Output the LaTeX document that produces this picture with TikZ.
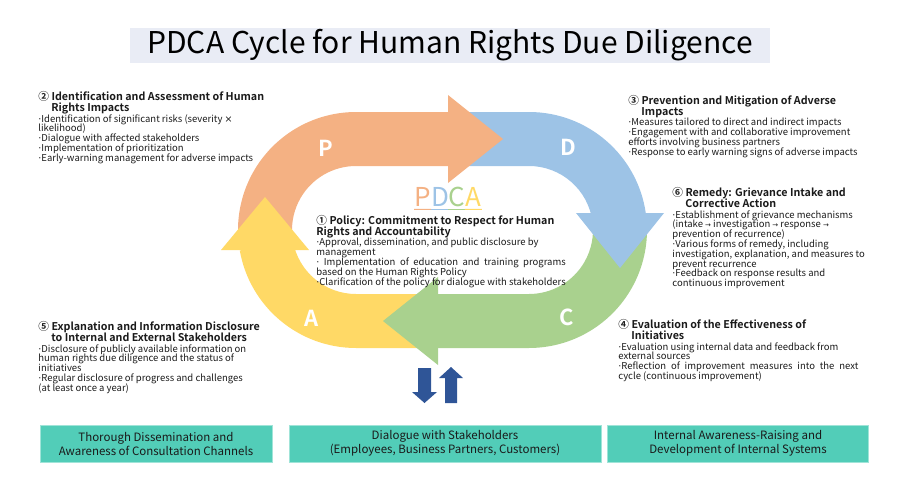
\documentclass[tikz,border=0pt]{standalone}
\usepackage{fontspec}
\setmainfont{Noto Sans CJK JP}[BoldFont={Noto Sans CJK JP Bold}]
\newfontfamily\symfont{DejaVu Sans}
\usetikzlibrary{calc, positioning}
\definecolor{cporange}{HTML}{F4B183}
\definecolor{cpblue}{HTML}{9DC3E6}
\definecolor{cpgreen}{HTML}{A9D18E}
\definecolor{cpyellow}{HTML}{FFD966}
\definecolor{cteal}{HTML}{52CDB8}
\definecolor{cnavy}{HTML}{2F5597}
\definecolor{ctitle}{HTML}{E9ECF5}
\definecolor{ctext}{HTML}{1A1A1A}
\newlength\fillw
\newcommand\pbul{{\symfont ·}}
\newcommand\parr{{\symfont\scriptsize →}}
\newcommand\ptimes{{\symfont ×}}
\newcommand\tightlines{\lineskiplimit=-10pt\relax}
\tikzset{
  every picture/.style={line width=0.8pt},
  blockhead/.style={anchor=north west, inner sep=0pt, align=left, text=ctext, font=\bfseries\fontsize{10.7}{10.8}\selectfont\tightlines},
  blockbody/.style={anchor=north west, inner sep=0pt, align=left, text=ctext, font=\fontsize{9.5}{9.8}\selectfont\tightlines},
  cycleletter/.style={text=white, inner sep=0pt, font=\bfseries\fontsize{22}{22}\selectfont},
  pdcaword/.style={inner xsep=0pt, inner ysep=2pt, font=\fontsize{26}{26}\selectfont},
  titlebox/.style={fill=ctitle, minimum width=640pt, minimum height=35pt, inner sep=0pt, font=\fontsize{30}{32}\selectfont},
  footbox/.style={fill=cteal, draw=cteal!55!white, line width=1pt, minimum height=37pt, inner sep=2pt, align=center, text=ctext, font=\fontsize{11.5}{14}\selectfont},
}

\begin{document}
\begin{tikzpicture}[x=1pt, y=-1pt]
  \useasboundingbox (0,0) rectangle (900,482);
  \def\Ro{118}
  \def\Ri{64}
  \coordinate (CL) at (356,230);
  \coordinate (CR) at (529,230);

  \node[titlebox] (title) at (450,45.5) {PDCA Cycle for Human Rights Due Diligence};

  % bodies of the four bands, heads go on top afterwards
  \fill[cporange] ($(CL)+(176:\Ro)$) arc[start angle=176, end angle=270, radius=\Ro] -- (450,112) -- (450,166)
    -- ($(CL)+(270:\Ri)$) arc[start angle=270, end angle=176, radius=\Ri] -- cycle;
  \fill[cpblue] (460,112) -- (529,112) arc[start angle=-90, end angle=-8, radius=\Ro]
    -- ($(CR)+(-8:\Ri)$) arc[start angle=-8, end angle=-90, radius=\Ri] -- (460,166) -- cycle;
  \fill[cpgreen] ($(CR)+(-8:\Ro)$) arc[start angle=-8, end angle=90, radius=\Ro] -- (436,348) -- (436,294)
    -- ($(CR)+(90:\Ri)$) arc[start angle=90, end angle=-8, radius=\Ri] -- cycle;
  \fill[cpyellow] (425,348) -- (356,348) arc[start angle=90, end angle=170, radius=\Ro]
    -- ($(CL)+(170:\Ri)$) arc[start angle=170, end angle=90, radius=\Ri] -- (425,294) -- cycle;

  % arrow heads
  \fill[cporange] (448,95) -- (503,139) -- (448,183) -- cycle;
  \fill[cpblue] (576,213) -- (664,213) -- (620,268) -- cycle;
  \fill[cpgreen] (438,277) -- (383,321) -- (438,365) -- cycle;
  \fill[cpyellow] (221,250) -- (309,250) -- (265,197) -- cycle;

  \foreach \l/\x/\y in {P/326/148, D/568/147, C/567/317, A/312/318}
    \node[cycleletter] (let\l) at (\x,\y) {\l};

  \node[pdcaword] (pdca) at (448,197) {\textcolor{cporange}{P}\textcolor{cpblue}{D}\textcolor{cpgreen}{C}\textcolor{cpyellow}{A}};
  \foreach \c [count=\i] in {cporange, cpblue, cpgreen, cpyellow}
    \draw[\c, line width=1pt] ($(pdca.south west)!{(\i-1)/4}!(pdca.south east)$) -- ($(pdca.south west)!{\i/4}!(pdca.south east)$);

  % policy (1)
  \node[blockhead] (polhead) at (316,215) {① Policy: Commitment to Respect for Human\\Rights and Accountability};
  \node[blockbody, below right=23pt and 0pt of polhead.north west] (polbody) {\pbul Approval, dissemination, and public disclosure by\\management\\\settowidth{\fillw}{\pbul Clarification of the policy for dialogue with stakeholders}\makebox[\fillw][s]{\pbul{} Implementation of education and training programs}\\based on the Human Rights Policy\\\pbul Clarification of the policy for dialogue with stakeholders};

  % identification (2)
  \node[blockhead] (idhead) at (38,91) {② Identification and Assessment of Human\\\hspace*{13pt}Rights Impacts};
  \node[blockbody, below right=23pt and 0pt of idhead.north west] (idbody) {\pbul Identification of significant risks (severity \ptimes\\likelihood)\\\pbul Dialogue with affected stakeholders\\\pbul Implementation of prioritization\\\pbul Early-warning management for adverse impacts};

  % prevention (3)
  \node[blockhead] (prvhead) at (628,95) {③ Prevention and Mitigation of Adverse\\\hspace*{13pt}Impacts};
  \node[blockbody, below right=23pt and 0pt of prvhead.north west] (prvbody) {\pbul Measures tailored to direct and indirect impacts\\\pbul Engagement with and collaborative improvement\\efforts involving business partners\\\pbul Response to early warning signs of adverse impacts};

  % evaluation (4)
  \node[blockhead] (evlhead) at (618,319) {④ Evaluation of the Effectiveness of\\\hspace*{13pt}Initiatives};
  \node[blockbody, below right=23pt and 0pt of evlhead.north west] (evlbody) {\pbul Evaluation using internal data and feedback from\\external sources\\\makebox[240pt][s]{\pbul Reflection of improvement measures into the next}\\cycle (continuous improvement)};

  % disclosure (5)
  \node[blockhead] (dschead) at (38,321) {⑤ Explanation and Information Disclosure\\\hspace*{13pt}to Internal and External Stakeholders};
  \node[blockbody, below right=23pt and 0pt of dschead.north west] (dscbody) {\pbul Disclosure of publicly available information on\\human rights due diligence and the status of\\initiatives\\\pbul Regular disclosure of progress and challenges\\(at least once a year)};

  % remedy (6)
  \node[blockhead] (remhead) at (672,187) {⑥ Remedy: Grievance Intake and\\\hspace*{13pt}Corrective Action};
  \node[blockbody, below right=23pt and 0pt of remhead.north west] (rembody) {\pbul Establishment of grievance mechanisms\\(intake \parr{} investigation \parr{} response \parr\\prevention of recurrence)\\\pbul Various forms of remedy, including\\investigation, explanation, and measures to\\prevent recurrence\\\pbul Feedback on response results and\\continuous improvement};

  % two-way arrows above the dialogue box
  \fill[cnavy] (418,368) -- (431,368) -- (431,392) -- (437,392) -- (424.5,403) -- (412,392) -- (418,392) -- cycle;
  \fill[cnavy] (445,403) -- (457,403) -- (457,378) -- (463,378) -- (451,367) -- (439,378) -- (445,378) -- cycle;

  \node[footbox, minimum width=232pt] (chan) at (156,443.5) {Thorough Dissemination and\\Awareness of Consultation Channels};
  \node[footbox, minimum width=312pt] (dial) at (445,443.5) {Dialogue with Stakeholders\\(Employees, Business Partners, Customers)};
  \node[footbox, minimum width=261pt] (intl) at (738,443.5) {Internal Awareness-Raising and\\Development of Internal Systems};
\end{tikzpicture}
\end{document}
